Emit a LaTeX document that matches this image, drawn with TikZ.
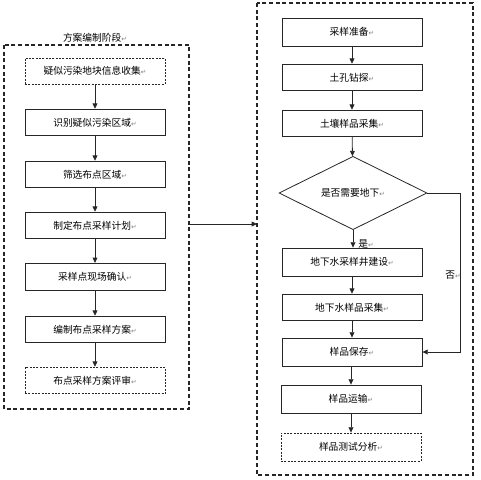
\documentclass[tikz,border=0pt]{standalone}
\usepackage{fontspec}
\setmainfont{Noto Sans CJK SC}
\newfontfamily\symfont{DejaVu Sans}
\usetikzlibrary{arrows.meta,shapes.geometric}
\newcommand{\parmark}{{\symfont\color{gray}\fontsize{5pt}{6pt}\selectfont ↵}}
\tikzset{
  px/.style={x=0.75pt,y=-0.75pt},
  stepbox/.style={draw=black!85,line width=0.6pt,fill=white,inner sep=0pt,font=\fontsize{7.3pt}{9pt}\selectfont},
  dbox/.style={stepbox,dash pattern=on 1.5pt off 1pt},
  frame/.style={draw=black!85,line width=0.8pt,dash pattern=on 3pt off 2pt},
  arr/.style={draw=black!85,line width=0.6pt,-{Triangle[length=4pt,width=3.6pt]}},
  lbl/.style={font=\fontsize{7.3pt}{9pt}\selectfont,inner sep=0pt}
}
\begin{document}
\begin{tikzpicture}[px]
\useasboundingbox (0,0) rectangle (480,480);
% frames
\draw[frame] (4,45) rectangle (189,409);
\node[lbl] (title) at (95,38) {方案编制阶段\parmark};
\draw[frame] (257,3) rectangle (473,475);
% left column
\node[dbox,minimum width=105pt,minimum height=19.5pt] (l1) at (95,71) {疑似污染地块信息收集\parmark};
\node[stepbox,minimum width=105pt,minimum height=20pt] (l2) at (95,122.5) {识别疑似污染区域\parmark};
\node[stepbox,minimum width=105pt,minimum height=20pt] (l3) at (95,174.5) {筛选布点区域\parmark};
\node[stepbox,minimum width=105pt,minimum height=20pt] (l4) at (95,225.5) {制定布点采样计划\parmark};
\node[stepbox,minimum width=105pt,minimum height=20.5pt] (l5) at (95,277) {采样点现场确认\parmark};
\node[stepbox,minimum width=105pt,minimum height=20pt] (l6) at (95,329.5) {编制布点采样方案\parmark};
\node[dbox,minimum width=105pt,minimum height=20pt] (l7) at (95,380.5) {布点采样方案评审\parmark};
\foreach \a/\b in {l1/l2,l2/l3,l3/l4,l4/l5,l5/l6,l6/l7}
  \draw[arr] (\a) -- (\b);
% link between frames
\coordinate (fl) at (189,224);
\coordinate (fr) at (257,224);
\draw[arr] (fl) -- (fr);
% right column
\node[stepbox,minimum width=105pt,minimum height=21pt] (r1) at (352,32) {采样准备\parmark};
\node[stepbox,minimum width=105pt,minimum height=20pt] (r2) at (352,77.5) {土孔钻探\parmark};
\node[stepbox,minimum width=105pt,minimum height=20pt] (r3) at (352,123.5) {土壤样品采集\parmark};
\node[diamond,draw=black!85,line width=0.6pt,fill=white,inner sep=0pt,minimum width=111pt,minimum height=55pt,font=\fontsize{7.3pt}{9pt}\selectfont] (d) at (353,193) {是否需要地下\parmark};
\node[stepbox,minimum width=105pt,minimum height=21pt] (r4) at (352,262) {地下水采样井建设\parmark};
\node[stepbox,minimum width=105pt,minimum height=20pt] (r5) at (352,307.5) {地下水样品采集\parmark};
\node[stepbox,minimum width=105pt,minimum height=21pt] (r6) at (352,352) {样品保存\parmark};
\node[stepbox,minimum width=105pt,minimum height=21pt] (r7) at (351,399) {样品运输\parmark};
\node[dbox,minimum width=105pt,minimum height=21pt] (r8) at (351,447) {样品测试分析\parmark};
\draw[arr] (r1) -- (r2);
\draw[arr] (r2) -- (r3);
\draw[arr] (r3) -- (d);
\draw[arr] (d.south) -- (r4.north -| d.south);
\node[lbl,anchor=west] (yes) at (358,244) {是\parmark};
\draw[arr] (r4) -- (r5);
\draw[arr] (r5) -- (r6);
\draw[arr] (r6.south -| r7.north) -- (r7);
\draw[arr] (r7) -- (r8);
\coordinate (nc) at (460,193);
\draw[arr] (d.east) -- (nc) |- (r6.east);
\node[lbl] (no) at (453,275) {否\parmark};
\end{tikzpicture}
\end{document}
